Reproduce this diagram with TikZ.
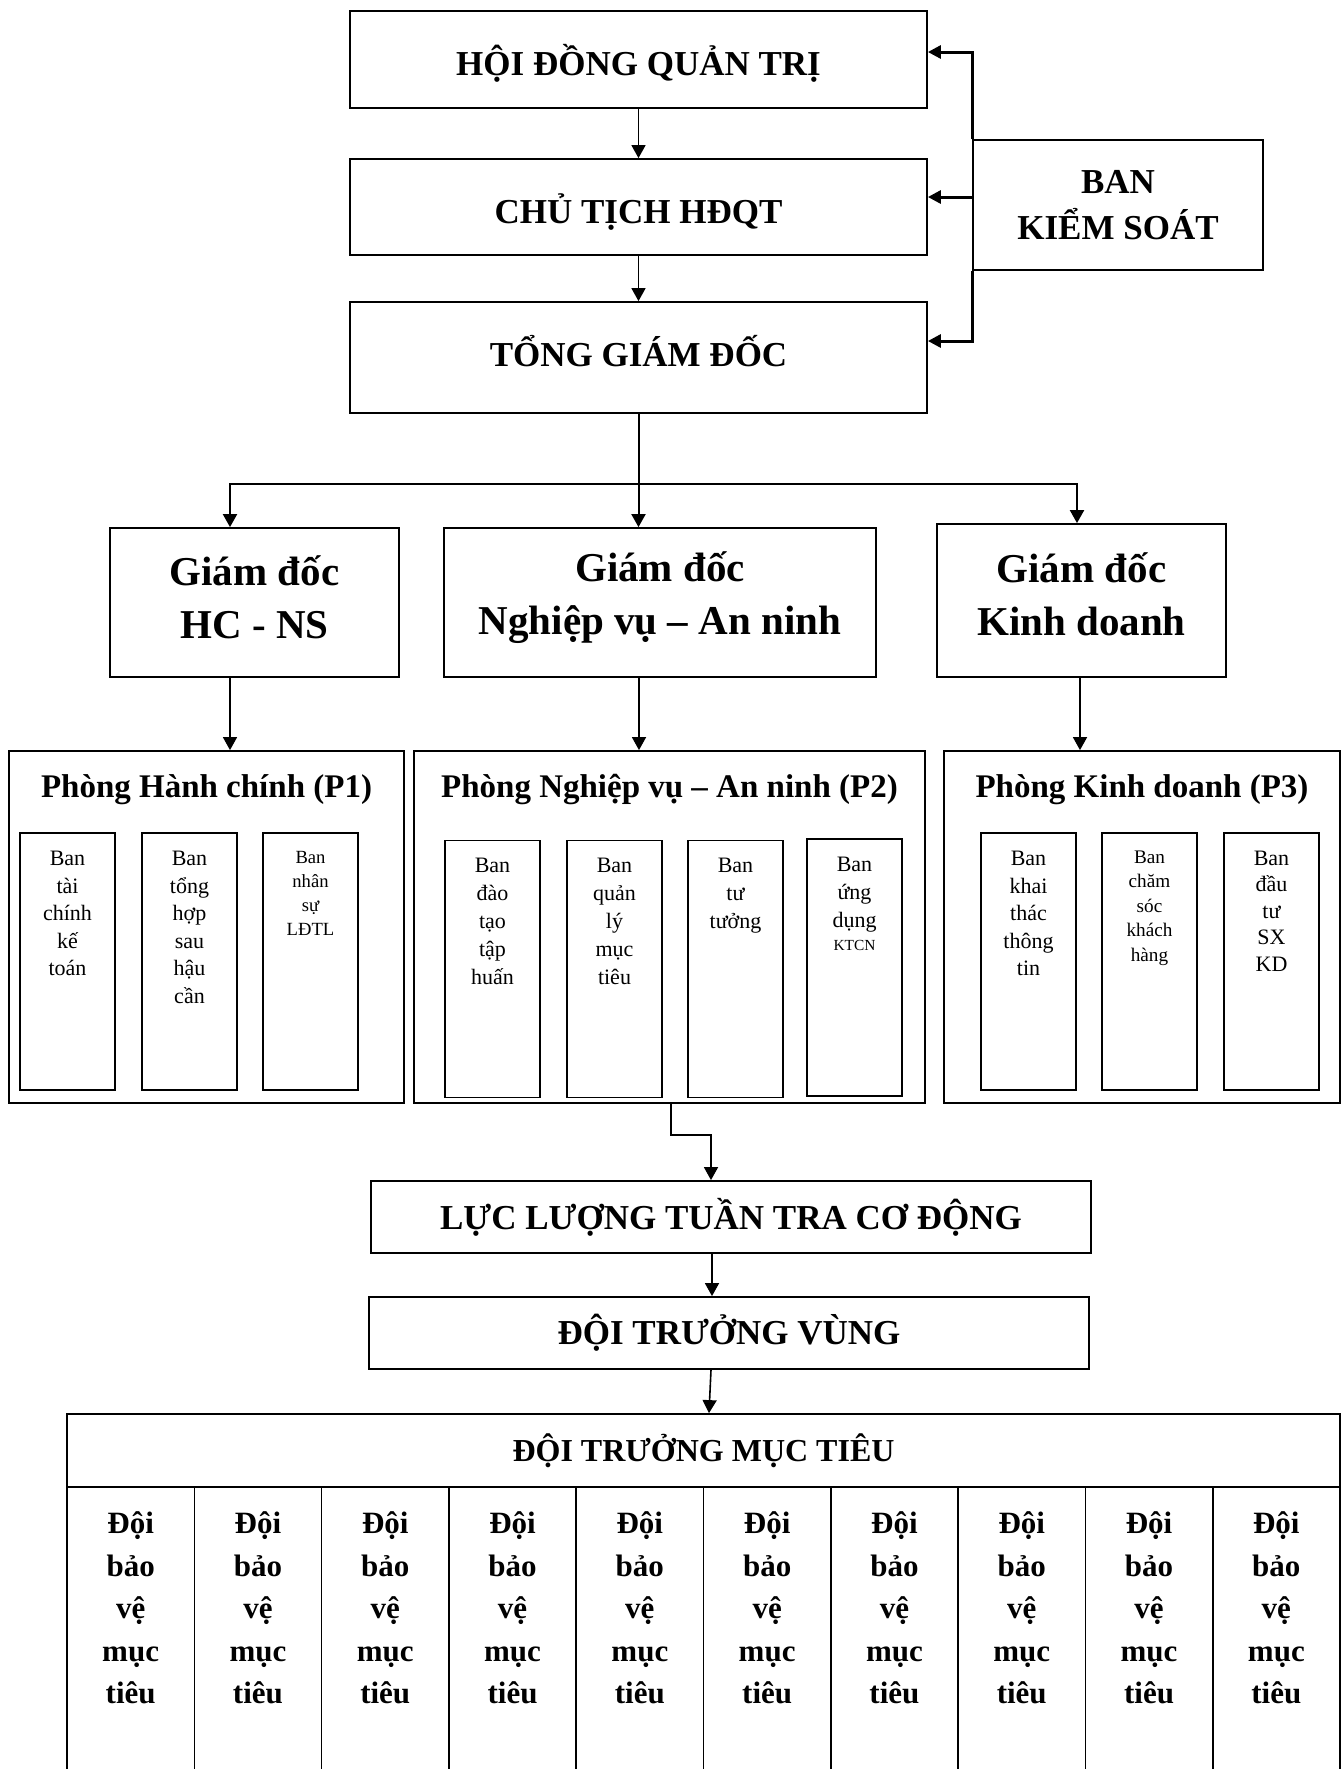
\documentclass[tikz,border=0pt]{standalone}
\usepackage{fontspec}
\setmainfont{Liberation Serif}
\usetikzlibrary{arrows.meta}
\tikzset{
  box/.style={draw, line width=0.9pt, inner sep=0pt, align=center},
  capbox/.style={box, font=\fontsize{17.5}{23}\selectfont\bfseries},
  gdbox/.style={box, minimum height=74.5pt, font=\fontsize{20.5}{26.5}\selectfont\bfseries},
  phbox/.style={box, minimum height=176pt},
  phtitle/.style={inner sep=0pt, anchor=base, font=\fontsize{16.5}{20}\selectfont\bfseries},
  banbox/.style={draw, line width=0.8pt, inner sep=0pt},
  colbox/.style={draw, line width=0.8pt, inner sep=0pt},
  arr/.style={line width=0.8pt, -{Triangle[length=6.5pt,width=7pt]}},
  ksarr/.style={line width=1.5pt, -{Triangle[length=6.5pt,width=6.5pt]}}
}
% text of one "Ban" column: size, skip, lines
\newcommand{\bantext}[3]{\parbox[c][128.5pt][t]{47.5pt}{\vspace*{9pt}\centering\fontsize{#1}{#2}\selectfont #3\par}}
\newcommand{\doitext}{\parbox[c][156.5pt][t]{63.65pt}{\vspace*{12.5pt}\centering\fontsize{15.5}{21.25}\selectfont\bfseries Đội\\bảo\\vệ\\mục\\tiêu\par}}

\begin{document}
\begin{tikzpicture}[x=0.5pt, y=-0.5pt]
  \useasboundingbox (0,0) rectangle (1342,1769);

  % top of the company
  \node[capbox, minimum width=288.5pt, minimum height=48.5pt, text height=16.1pt, text depth=0pt] (hdqt) at (638.5,59.5) {HỘI ĐỒNG QUẢN TRỊ};
  \node[capbox, minimum width=288.5pt, minimum height=48pt, text height=16.6pt, text depth=0pt] (ct) at (638.5,207) {CHỦ TỊCH HĐQT};
  \node[capbox, minimum width=288.5pt, minimum height=55.5pt, text height=8.7pt, text depth=0pt] (tgd) at (638.5,357.5) {TỔNG GIÁM ĐỐC};
  \node[capbox, minimum width=145pt, minimum height=65pt] (bks) at (1118,205) {BAN\\KIỂM SOÁT};

  \draw[arr] (hdqt) -- (ct);
  \draw[arr] (ct) -- (tgd);
  \draw[ksarr] (bks.north west) |- ([yshift=3.75pt]hdqt.east);
  \draw[ksarr] ([yshift=4pt]bks.west) -- ([yshift=4pt]bks.west -| ct.east);
  \draw[ksarr] (bks.south west) |- ([yshift=8.25pt]tgd.east);

  % directors
  \node[gdbox, minimum width=144.5pt, text depth=5.8pt] (gdhc) at (254.5,602.5) {Giám đốc\\HC - NS};
  \node[gdbox, minimum width=216pt, text depth=9pt] (gdnv) at (660,602.5) {Giám đốc\\Nghiệp vụ -- An ninh};
  \node[gdbox, minimum width=144.5pt, minimum height=76.5pt, text depth=6.8pt] (gdkd) at (1081.5,600.5) {Giám đốc\\Kinh doanh};

  \draw[line width=1pt] (tgd.south) -- ++(0,70) coordinate (split);
  \draw[arr, line width=1pt] (split) -| ([xshift=-12.25pt]gdhc.north);
  \draw[arr, line width=1pt] (split) -- (split |- gdnv.north);
  \draw[arr, line width=1pt] (split) -| ([xshift=-2.25pt]gdkd.north);

  % departments
  \node[phbox, minimum width=197.5pt] (p1) at (206.5,927) {};
  \node[phbox, minimum width=255.5pt] (p2) at (669.5,927) {};
  \node[phbox, minimum width=198pt] (p3) at (1142,927) {};
  \node[phtitle] (p1t) at (206.5,797) {Phòng Hành chính (P1)};
  \node[phtitle] (p2t) at (669.5,797) {Phòng Nghiệp vụ -- An ninh (P2)};
  \node[phtitle] (p3t) at (1142,797) {Phòng Kinh doanh (P3)};

  \draw[arr] ([xshift=-12.25pt]gdhc.south) -- ([xshift=-12.25pt]gdhc.south |- p1.north);
  \draw[arr] ([xshift=-10.5pt]gdnv.south) -- ([xshift=-10.5pt]gdnv.south |- p2.north);
  \draw[arr] ([xshift=-0.75pt]gdkd.south) -- ([xshift=-0.75pt]gdkd.south |- p3.north);

  \node[banbox] (b11) at (67.5,961.5) {\bantext{11}{13.8}{Ban\\tài\\chính\\kế\\toán}};
  \node[banbox] (b12) at (189.5,961.5) {\bantext{11}{13.8}{Ban\\tổng\\hợp\\sau\\hậu\\cần}};
  \node[banbox] (b13) at (310.5,961.5) {\bantext{9.3}{12}{Ban\\nhân\\sự\\LĐTL}};

  \node[banbox] (b21) at (492.5,969) {\bantext{11}{14}{Ban\\đào\\tạo\\tập\\huấn}};
  \node[banbox] (b22) at (614.5,969) {\bantext{11}{14}{Ban\\quản\\lý\\mục\\tiêu}};
  \node[banbox] (b23) at (735.5,969) {\bantext{11}{14}{Ban\\tư\\tưởng}};
  \node[banbox] (b24) at (854.5,967.5) {\bantext{11}{14}{Ban\\ứng\\dụng\\[-2.5pt]{\fontsize{7.7}{9}\selectfont KTCN}}};

  \node[banbox] (b31) at (1028.5,961.5) {\bantext{11}{13.8}{Ban\\khai\\thác\\thông\\tin}};
  \node[banbox] (b32) at (1149.5,961.5) {\bantext{9.6}{12.2}{Ban\\chăm\\sóc\\khách\\hàng}};
  \node[banbox] (b33) at (1271.5,961.5) {\bantext{11}{13.2}{Ban\\đầu\\tư\\SX\\KD}};

  % field forces
  \node[capbox, minimum width=360pt, minimum height=36pt] (lltt) at (731,1217) {LỰC LƯỢNG TUẦN TRA CƠ ĐỘNG};
  \node[capbox, minimum width=360pt, minimum height=36pt] (dtv) at (729,1333) {ĐỘI TRƯỞNG VÙNG};
  \node[box, minimum width=636.5pt, minimum height=36.5pt, font=\fontsize{16}{20}\selectfont\bfseries] (mt) at (703.5,1450.5) {ĐỘI TRƯỞNG MỤC TIÊU};

  \draw[arr] ([xshift=0.75pt]p2.south) -- ++(0,31) -| ([xshift=-10pt]lltt.north);
  \draw[arr] ([xshift=-9.5pt]lltt.south) -- ([xshift=-8.5pt]dtv.north);
  \draw[arr] ([xshift=-9pt]dtv.south) -- ([xshift=2.75pt]mt.north);

  \foreach \i in {0,...,9}
    \node[colbox] (doi\i) at ({130.65+127.3*\i},1643.5) {\doitext};
\end{tikzpicture}
\end{document}
